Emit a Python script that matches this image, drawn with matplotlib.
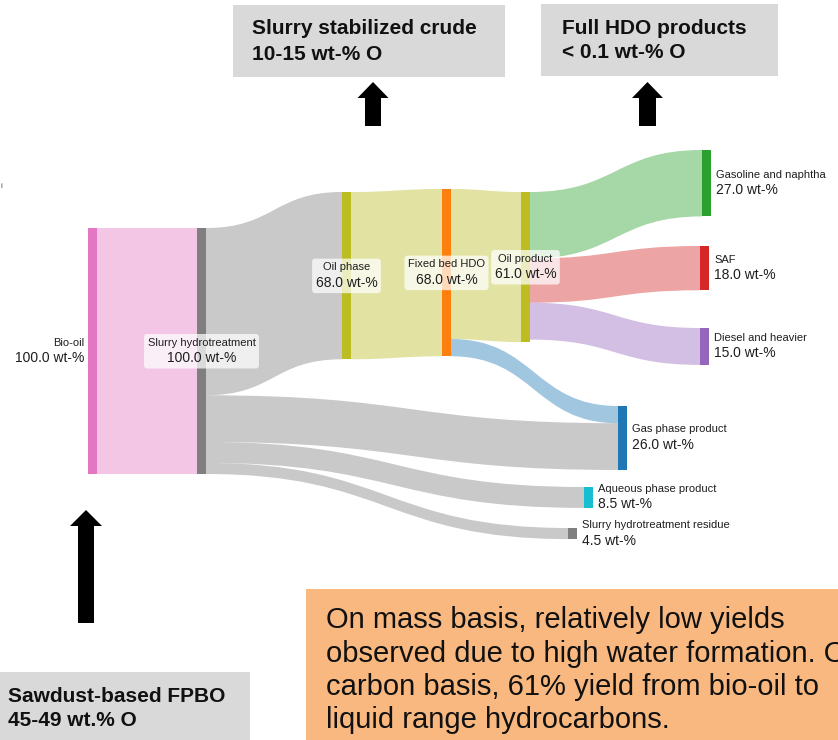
import matplotlib
matplotlib.use("Agg")
import matplotlib.pyplot as plt
from matplotlib.path import Path
from matplotlib.patches import PathPatch, Rectangle, Polygon, FancyBboxPatch

# ---------------- data ----------------
nodes = ["Bio-oil", "Slurry hydrotreatment", "Oil phase", "Fixed bed HDO", "Oil product",
         "Gasoline and naphtha", "SAF", "Diesel and heavier", "Gas phase product",
         "Aqueous phase product", "Slurry hydrotreatment residue"]
node_values = [100.0, 100.0, 68.0, 68.0, 61.0, 27.0, 18.0, 15.0, 26.0, 8.5, 4.5]

link_source = [0, 1, 1, 1, 1, 2, 3, 3, 4, 4, 4]
link_target = [1, 2, 8, 9, 10, 3, 4, 8, 5, 6, 7]
link_values = [100.0, 68.0, 19.0, 8.5, 4.5, 68.0, 61.0, 7.0, 27.0, 18.0, 15.0]

# ---------------- styles / layout ----------------
node_colors = ["#e377c2", "#7f7f7f", "#bcbd22", "#ff7f0e", "#bcbd22", "#2ca02c",
               "#d62728", "#9467bd", "#1f77b4", "#17becf", "#7f7f7f"]
link_colors = ["#e377c2", "#7f7f7f", "#7f7f7f", "#7f7f7f", "#7f7f7f", "#bcbd22",
               "#bcbd22", "#1f77b4", "#2ca02c", "#d62728", "#9467bd"]
link_alpha = 0.42

node_x = [88, 197, 342, 442, 521, 702, 700, 700, 618, 584, 568]
node_top = [228, 228, 192, 189, 192, 150, 246, 328, 406, 487, 528]
node_w = 9
scale = 2.46          # pixels per wt-%

# label placement: 'left' (right-aligned before node), 'mid' (boxed, centred), 'right'
label_pos = ["left", "mid", "mid", "mid", "mid", "right", "right", "right", "right", "right", "right"]

W, H = 838, 740
fig = plt.figure(figsize=(W / 100, H / 100), dpi=100)
ax = fig.add_axes([0, 0, 1, 1])
ax.set_xlim(0, W)
ax.set_ylim(H, 0)
ax.axis("off")

sans = ["Liberation Sans", "DejaVu Sans"]
txt_col = "#1e1e1e"

# node heights
node_h = [v * scale for v in node_values]

# stacking offsets of links on each node
out_off = {i: 0.0 for i in range(len(nodes))}
in_off = {i: 0.0 for i in range(len(nodes))}
order = sorted(range(len(link_values)),
               key=lambda k: (link_source[k], node_top[link_target[k]]))
src_y = {}
for k in order:
    s = link_source[k]
    src_y[k] = node_top[s] + out_off[s]
    out_off[s] += link_values[k] * scale
order_t = sorted(range(len(link_values)),
                 key=lambda k: (link_target[k], node_top[link_source[k]]))
tgt_y = {}
for k in order_t:
    t = link_target[k]
    tgt_y[k] = node_top[t] + in_off[t]
    in_off[t] += link_values[k] * scale

# links as cubic bezier ribbons
for k in range(len(link_values)):
    s, t = link_source[k], link_target[k]
    h = link_values[k] * scale
    x0 = node_x[s] + node_w
    x1 = node_x[t]
    y0, y1 = src_y[k], tgt_y[k]
    xm = (x0 + x1) / 2
    verts = [(x0, y0), (xm, y0), (xm, y1), (x1, y1),
             (x1, y1 + h),
             (xm, y1 + h), (xm, y0 + h), (x0, y0 + h),
             (x0, y0)]
    codes = [Path.MOVETO, Path.CURVE4, Path.CURVE4, Path.CURVE4,
             Path.LINETO,
             Path.CURVE4, Path.CURVE4, Path.CURVE4,
             Path.CLOSEPOLY]
    ax.add_patch(PathPatch(Path(verts, codes), facecolor=link_colors[k],
                           alpha=link_alpha, edgecolor="none", zorder=1))

# nodes
for i in range(len(nodes)):
    ax.add_patch(Rectangle((node_x[i], node_top[i]), node_w, node_h[i],
                           facecolor=node_colors[i], edgecolor="none", zorder=2))

# node labels
fig.canvas.draw()
renderer = fig.canvas.get_renderer()
for i in range(len(nodes)):
    cy = node_top[i] + node_h[i] / 2
    val = f"{node_values[i]:.1f} wt-%"
    if label_pos[i] == "left":
        x, ha = node_x[i] - 4, "right"
    elif label_pos[i] == "right":
        x, ha = node_x[i] + node_w + 5, "left"
    else:
        x, ha = node_x[i] + node_w / 2, "center"
    t1 = ax.text(x, cy - 8.5, nodes[i], ha=ha, va="center", fontsize=8,
                 family=sans, color=txt_col, zorder=5)
    t2 = ax.text(x, cy + 7, val, ha=ha, va="center", fontsize=10,
                 family=sans, color=txt_col, zorder=5)
    if label_pos[i] == "mid":
        inv = ax.transData.inverted()
        bb1 = t1.get_window_extent(renderer)
        bb2 = t2.get_window_extent(renderer)
        xa, ya = inv.transform((min(bb1.x0, bb2.x0), min(bb1.y0, bb2.y0)))
        xb, yb = inv.transform((max(bb1.x1, bb2.x1), max(bb1.y1, bb2.y1)))
        bx0, bx1 = min(xa, xb), max(xa, xb)
        by0, by1 = min(ya, yb), max(ya, yb)
        ax.add_patch(FancyBboxPatch((bx0, by0), bx1 - bx0, by1 - by0,
                                    boxstyle="round,pad=3.5,rounding_size=3",
                                    facecolor="white", alpha=0.72,
                                    edgecolor="none", zorder=4))

# cut-off legend glyph at the left margin
ax.text(0.5, 187, "i", ha="left", va="center", fontsize=6, color="#555555", family=sans)


def up_arrow(cx, y_tip, y_bottom, shaft_w, head_w, head_h):
    pts = [(cx - shaft_w / 2, y_bottom), (cx - shaft_w / 2, y_tip + head_h),
           (cx - head_w / 2, y_tip + head_h), (cx, y_tip),
           (cx + head_w / 2, y_tip + head_h), (cx + shaft_w / 2, y_tip + head_h),
           (cx + shaft_w / 2, y_bottom)]
    ax.add_patch(Polygon(pts, closed=True, facecolor="black", edgecolor="none", zorder=6))


# annotation boxes
def boxed_text(x0, y0, w, h, lines, tx, ty, size, color, fill, weight="bold", step=25):
    ax.add_patch(Rectangle((x0, y0), w, h, facecolor=fill, edgecolor="none", zorder=6))
    for j, line in enumerate(lines):
        ax.text(tx, ty + j * step, line, ha="left", va="center", fontsize=size,
                fontweight=weight, family=sans, color=color, zorder=7)


boxed_text(233, 5, 272, 72, ["Slurry stabilized crude", "10-15 wt-% O"],
           252, 29, 15, "#111111", "#d9d9d9")
boxed_text(541, 4, 237, 72, ["Full HDO products", "< 0.1 wt-% O"],
           562, 28, 15, "#111111", "#d9d9d9")
boxed_text(0, 672, 250, 70, ["Sawdust-based FPBO", "45-49 wt.% O"],
           8, 696, 15, "#111111", "#d9d9d9")
boxed_text(306, 589, 540, 160,
           ["On mass basis, relatively low yields",
            "observed due to high water formation. On",
            "carbon basis, 61% yield from bio-oil to",
            "liquid range hydrocarbons."],
           326, 620, 21, "#111111", "#f8b880", weight="normal", step=33.5)

up_arrow(373, 82, 126, 16, 31, 16)
up_arrow(647.5, 82, 126, 17, 31, 16)
up_arrow(86, 510, 623, 16, 32, 16)

fig.savefig("out.png", dpi=100)
